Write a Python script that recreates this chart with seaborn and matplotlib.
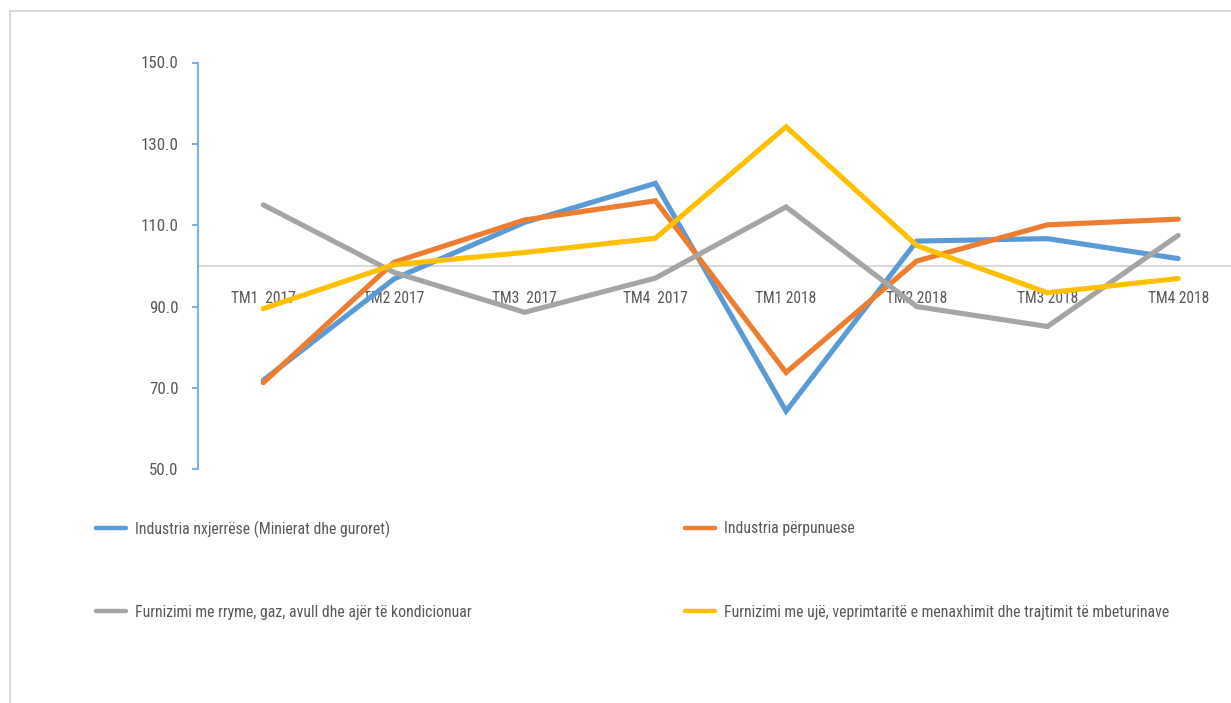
import matplotlib
matplotlib.use("Agg")
import matplotlib.pyplot as plt
import matplotlib.patches as mpatches
from matplotlib import font_manager
import seaborn as sns
import pandas as pd

categories = ["TM1  2017", "TM2 2017", "TM3  2017", "TM4  2017",
              "TM1 2018", "TM2 2018", "TM3 2018", "TM4 2018"]
series_names = [
    "Industria nxjerrëse (Minierat dhe guroret)",
    "Industria përpunuese",
    "Furnizimi me rryme, gaz, avull dhe ajër të kondicionuar",
    "Furnizimi me ujë, veprimtaritë e menaxhimit dhe trajtimit të mbeturinave",
]
industria_nxjerrese = [71.9, 96.8, 110.7, 120.3, 64.3, 106.1, 106.7, 101.8]
industria_perpunuese = [71.3, 100.9, 111.3, 116.0, 73.8, 101.2, 110.1, 111.5]
furnizimi_rryme = [115.0, 98.4, 88.6, 97.0, 114.5, 90.0, 85.1, 107.5]
furnizimi_uje = [89.5, 100.3, 103.3, 106.8, 134.2, 105.0, 93.4, 96.9]
y_ticks = [50, 70, 90, 110, 130, 150]
colors = ["#5B9BD5", "#ED7D31", "#A5A5A5", "#FFC000"]

sns.set_style("white")

# choose a narrow font if one is installed, else Liberation Sans with smaller sizes
available = {f.name for f in font_manager.fontManager.ttflist}
narrow = None
for cand in ["Liberation Sans Narrow", "Roboto Condensed", "Open Sans Condensed",
             "Noto Sans Condensed", "DejaVu Sans Condensed"]:
    if cand in available:
        narrow = cand
        break
if narrow == "DejaVu Sans Condensed":
    main_font, k = narrow, 0.88
elif narrow is not None:
    main_font, k = narrow, 1.0
else:
    main_font, k = "Liberation Sans", 0.8
plt.rcParams["font.family"] = [main_font, "DejaVu Sans"]
tick_fs, cat_fs, leg_fs = 12.2 * k, 11.2 * k, 11.3 * k

rows = []
for name, vals in zip(series_names, [industria_nxjerrese, industria_perpunuese,
                                     furnizimi_rryme, furnizimi_uje]):
    for c, v in zip(categories, vals):
        rows.append({"cat": c, "val": v, "series": name})
df = pd.DataFrame(rows)

W, H = 1231, 703
fig = plt.figure(figsize=(W / 100, H / 100), dpi=100)
ax = fig.add_axes([198 / W, 1 - 469.3 / H, (1243.5 - 198) / W, (469.3 - 62.5) / H])

sns.lineplot(data=df, x="cat", y="val", hue="series", palette=colors,
             hue_order=series_names, sort=False, lw=3.7, ax=ax, legend=False)
for ln in ax.get_lines():
    ln.set_solid_capstyle("round")
    ln.set_solid_joinstyle("miter")

ax.set_xlim(-0.5, 7.5)
ax.set_ylim(50, 150)
ax.set_yticks(y_ticks)
ax.set_yticklabels([f"{t:.1f}" for t in y_ticks])
ax.set_xlabel("")
ax.set_ylabel("")

for s in ["top", "right"]:
    ax.spines[s].set_visible(False)
ax.spines["left"].set_color("#7FB0DE")
ax.spines["left"].set_linewidth(1.5)
ax.spines["bottom"].set_position(("data", 100))
ax.spines["bottom"].set_color("#D9D9D9")
ax.spines["bottom"].set_linewidth(1.5)
ax.spines["bottom"].set_zorder(0)

ax.tick_params(axis="y", direction="out", length=4, width=1.5, color="#7FB0DE",
               labelsize=tick_fs, labelcolor="#595959", pad=10, left=True)
ax.tick_params(axis="x", length=0, labelsize=cat_fs, labelcolor="#595959", pad=18)

# frame
fig.patches.append(mpatches.Rectangle((10 / W, -0.2), 1.5, 0.2 + 1 - 11 / H,
                                      transform=fig.transFigure, fill=False,
                                      edgecolor="#D9D9D9", lw=1.5))

# legend: one entry per legend for exact placement
handles = [plt.Line2D([], [], color=c, lw=3.2, solid_capstyle="round") for c in colors]
leg_pos = [(96, 529), (685, 529), (96, 612), (685, 612)]
hl_px, pad_px = 30, 9
for h, name, (px, py) in zip(handles, series_names, leg_pos):
    fs_px = leg_fs * 100 / 72
    leg = fig.legend([h], [name], frameon=False, fontsize=leg_fs,
                     handlelength=hl_px / fs_px, handletextpad=pad_px / fs_px,
                     labelcolor="#595959", borderpad=0, borderaxespad=0,
                     loc="center left", bbox_to_anchor=(px / W, 1 - py / H))

fig.savefig("out.png", dpi=100)
